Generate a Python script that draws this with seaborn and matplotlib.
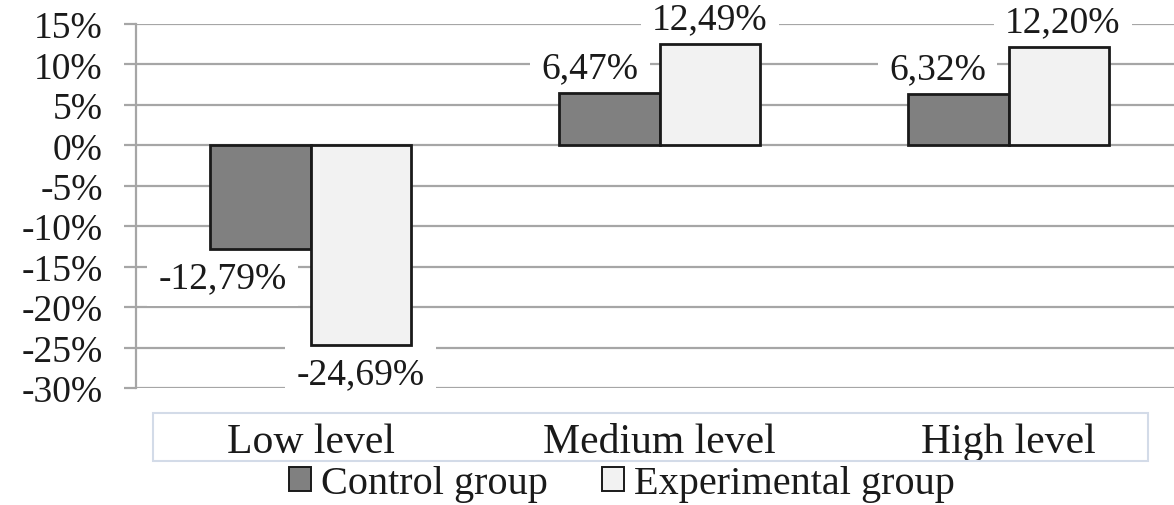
import pandas as pd
import seaborn as sns
import matplotlib.pyplot as plt
from matplotlib.patches import Rectangle, Patch
from matplotlib.ticker import FuncFormatter, MultipleLocator

# Data
levels = ['Low level', 'Medium level', 'High level']
groups = ['Control group', 'Experimental group']
control = [-12.79, 6.47, 6.32]
experimental = [-24.69, 12.49, 12.20]

df = pd.DataFrame({
    'level': levels * 2,
    'group': [groups[0]] * 3 + [groups[1]] * 3,
    'value': control + experimental,
})

sns.set_style('white')
plt.rcParams['font.family'] = ['Liberation Serif', 'DejaVu Serif']

fig = plt.figure(figsize=(11.74, 5.06), dpi=100)
ax = fig.add_axes([136 / 1174, 1 - 389 / 506, 1 - 136 / 1174, (389 - 25) / 506])

sns.barplot(data=df, x='level', y='value', hue='group', order=levels, hue_order=groups,
            palette=['#808080', '#f2f2f2'], edgecolor='#1a1a1a', linewidth=2.0,
            width=0.575, gap=0, ax=ax, legend=False, zorder=3)

ax.set_ylim(-30, 15)
ax.set_xlim(-0.5, 2.474)
ax.yaxis.set_major_locator(MultipleLocator(5))
ax.yaxis.set_major_formatter(FuncFormatter(lambda v, p: f'{v:.0f}%'))
ax.grid(axis='y', color='#a6a6a6', linewidth=1.6, zorder=0)
ax.set_axisbelow(True)
for side in ['top', 'right', 'bottom']:
    ax.spines[side].set_visible(False)
ax.spines['left'].set_color('#a6a6a6')
ax.spines['left'].set_linewidth(1.6)
ax.tick_params(axis='y', length=9, width=1.6, color='#a6a6a6', pad=15,
               labelsize=27, labelcolor='#1a1a1a', left=True)
ax.tick_params(axis='x', length=0, pad=25, labelsize=30, labelcolor='#1a1a1a')
ax.set_xlabel('')
ax.set_ylabel('')

# value labels with white boxes over the grid (kept under the bars)
label_dx = [[-27, -14, -15], [0, 0, 3]]
for gi, vals in enumerate([control, experimental]):
    cont = ax.containers[gi]
    for i, (bar, v) in enumerate(zip(cont, vals)):
        xc = bar.get_x() + bar.get_width() / 2
        dy = 18 if v > 0 else -21
        ax.annotate(f'{v:.2f}%'.replace('.', ','), (xc, v),
                    xytext=(label_dx[gi][i], dy), textcoords='offset points',
                    ha='center', va='center', fontsize=27, color='#1a1a1a', zorder=2.5,
                    bbox=dict(boxstyle='square,pad=0.3', fc='white', ec='none'))

# box around the category labels
fig.patches.append(Rectangle((153 / 1174, 1 - 462 / 506), (1148 - 153) / 1174, 48 / 506,
                             transform=fig.transFigure, fill=False,
                             edgecolor='#d3dbe8', linewidth=1.5))

handles = [Patch(facecolor='#808080', edgecolor='#1a1a1a', linewidth=1.4),
           Patch(facecolor='#f2f2f2', edgecolor='#1a1a1a', linewidth=1.4)]
fig.legend(handles, groups, loc='center', bbox_to_anchor=(622 / 1174, 1 - 485 / 506),
           ncol=2, frameon=False, fontsize=29, handlelength=0.55, handleheight=0.55,
           handletextpad=0.25, columnspacing=1.35, labelcolor='#1a1a1a',
           borderpad=0, borderaxespad=0)

fig.savefig('out.png', dpi=100)
